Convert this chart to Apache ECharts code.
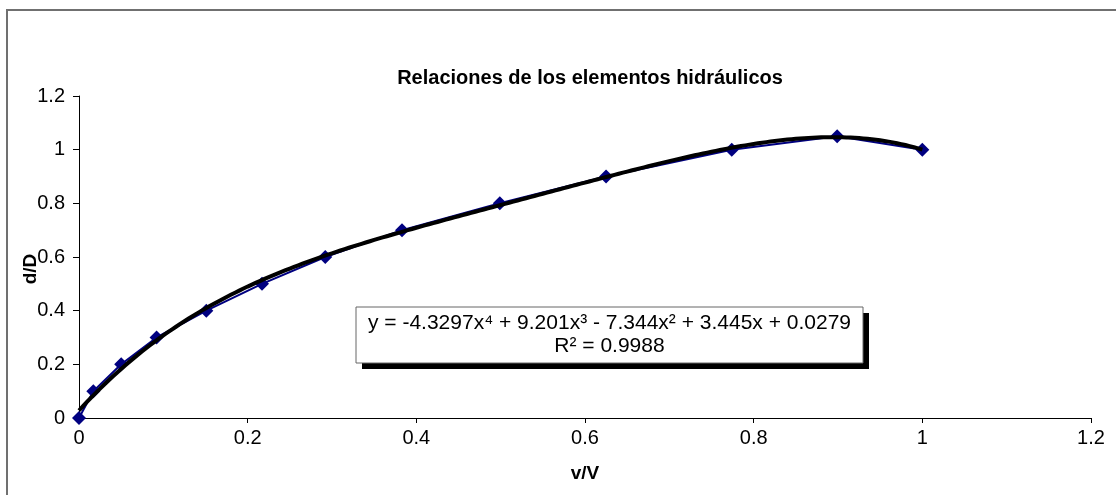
<!DOCTYPE html>
<html>
<head>
<meta charset="utf-8">
<title>Relaciones de los elementos hidráulicos</title>
<script src="https://cdn.jsdelivr.net/npm/echarts@6/dist/echarts.min.js"></script>
<style>
  html, body { margin: 0; padding: 0; background: #ffffff; }
  #chart { width: 1116px; height: 495px; }
</style>
</head>
<body>
<div id="chart"></div>
<script>
// Measured points: v/V (x) against d/D (y)
const vV = [0, 0.017, 0.05, 0.092, 0.151, 0.217, 0.292, 0.383, 0.499, 0.625, 0.774, 0.899, 1.0];
const dD = [0, 0.1, 0.2, 0.3, 0.4, 0.5, 0.6, 0.7, 0.8, 0.9, 1.0, 1.05, 1.0];

// Polynomial trend line coefficients, highest power first (x^4 ... x^0)
const trendCoef = [-4.3297, 9.201, -7.344, 3.445, 0.0279];
const rSquared = 0.9988;

const chartTitle = 'Relaciones de los elementos hidráulicos';
const xName = 'v/V';
const yName = 'd/D';

const FONT = '"Liberation Sans", Arial, sans-serif';

const measured = vV.map((x, i) => [x, dD[i]]);

function polyAt(x) {
  return trendCoef.reduce((acc, c) => acc * x + c, 0);
}
const trend = [];
for (let i = 0; i <= 200; i++) {
  const x = i / 200;
  trend.push([x, polyAt(x)]);
}

function fmtTerm(c, pow) {
  const sup = { 4: '⁴', 3: '³', 2: '²' };
  const a = Math.abs(c);
  const v = pow === 0 ? String(a) : (pow === 1 ? a + 'x' : a + 'x' + sup[pow]);
  return { sign: c < 0 ? '-' : '+', v };
}
let eq = 'y = ';
trendCoef.forEach((c, i) => {
  const t = fmtTerm(c, trendCoef.length - 1 - i);
  eq += i === 0 ? (t.sign === '-' ? '-' : '') + t.v : ' ' + t.sign + ' ' + t.v;
});
const eqText = eq + '\nR² = ' + rSquared;

const chart = echarts.init(document.getElementById('chart'), null, { renderer: 'canvas' });

const option = {
  animation: false,
  backgroundColor: '#ffffff',
  title: {
    text: chartTitle,
    left: 585,
    top: 63,
    textAlign: 'center',
    textStyle: { fontFamily: FONT, fontSize: 20, fontWeight: 'bold', color: '#000' }
  },
  grid: { left: 79, right: 25, top: 96, bottom: 77, containLabel: false },
  xAxis: {
    type: 'value',
    min: 0, max: 1.2, interval: 0.2,
    name: xName,
    nameLocation: 'middle',
    nameGap: 46,
    nameTextStyle: { fontFamily: FONT, fontSize: 19, fontWeight: 'bold', color: '#000' },
    axisLine: { show: true, onZero: false, lineStyle: { color: '#000', width: 1 } },
    axisTick: { show: true, inside: false, length: 5, lineStyle: { color: '#000' } },
    axisLabel: { fontFamily: FONT, fontSize: 20, color: '#000', margin: 10 },
    splitLine: { show: false }
  },
  yAxis: {
    type: 'value',
    min: 0, max: 1.2, interval: 0.2,
    axisLine: { show: true, onZero: false, lineStyle: { color: '#000', width: 1 } },
    axisTick: { show: true, inside: false, length: 6, lineStyle: { color: '#000' } },
    axisLabel: { fontFamily: FONT, fontSize: 20, color: '#000', margin: 14 },
    splitLine: { show: false }
  },
  series: [
    {
      name: yName,
      type: 'line',
      data: measured,
      symbol: 'diamond',
      symbolSize: 14,
      showAllSymbol: true,
      itemStyle: { color: '#000080' },
      lineStyle: { color: '#000080', width: 2 },
      z: 2
    },
    {
      name: 'Polinómica',
      type: 'line',
      data: trend,
      showSymbol: false,
      smooth: false,
      lineStyle: { color: '#000', width: 4 },
      z: 3
    }
  ],
  graphic: [
    {
      type: 'rect',
      shape: { x: 7, y: 10, width: 1200, height: 600 },
      style: { fill: 'none', stroke: '#707070', lineWidth: 2 },
      silent: true,
      z: -10
    },
    {
      type: 'text',
      x: 31, y: 269,
      rotation: Math.PI / 2,
      style: {
        text: yName,
        fontFamily: FONT, fontSize: 19, fontWeight: 'bold', fill: '#000',
        align: 'center', verticalAlign: 'middle'
      },
      z: 10
    },
    {
      type: 'group',
      z: 20,
      children: [
        {
          type: 'rect',
          shape: { x: 362, y: 313, width: 507, height: 56 },
          style: { fill: '#000' }
        },
        {
          type: 'rect',
          shape: { x: 356, y: 307, width: 507, height: 56 },
          style: { fill: '#fff', stroke: '#666', lineWidth: 1 }
        },
        {
          type: 'text',
          x: 609.5, y: 335,
          style: {
            text: eqText,
            fontFamily: FONT, fontSize: 21, fill: '#000',
            align: 'center', verticalAlign: 'middle', lineHeight: 23
          }
        }
      ]
    }
  ]
};

chart.setOption(option);
</script>
</body>
</html>
